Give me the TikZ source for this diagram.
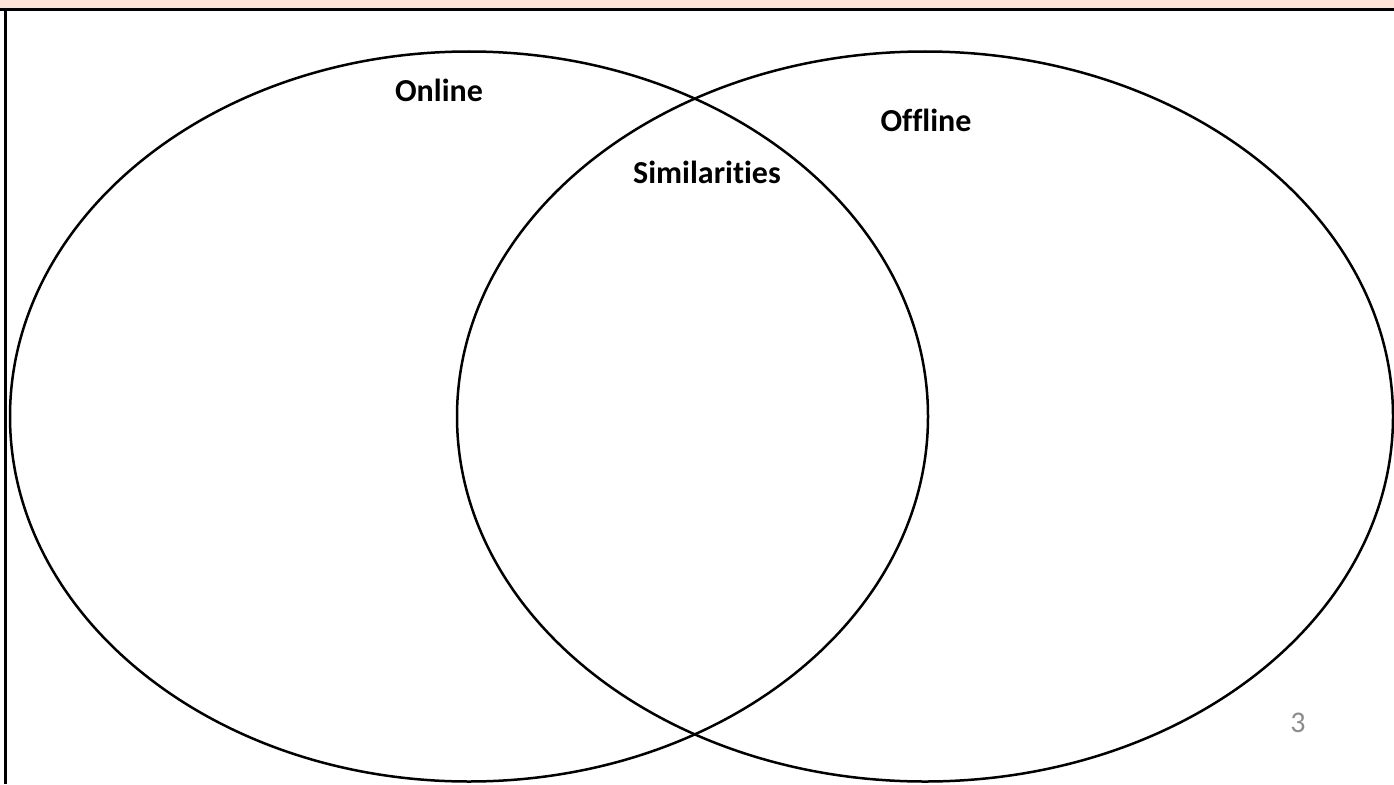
\documentclass[tikz,border=0pt]{standalone}
\usepackage{fontspec}
\setmainfont{Carlito}[Ligatures=NoCommon]
\usetikzlibrary{positioning}
\usetikzlibrary{shapes.geometric}
\definecolor{peach}{RGB}{252,228,214}
\definecolor{pagenum}{RGB}{140,140,140}

\begin{document}
\begin{tikzpicture}[
    x=1pt, y=-1pt,
    venn/.style={ellipse, draw, line width=2.5pt, inner sep=0pt},
    setlabel/.style={font=\fontsize{32}{38}\selectfont\bfseries},
    frame/.style={line width=3pt}
]
    \useasboundingbox (0,0) rectangle (1394,784);

    % title band and frame
    \fill[peach] (0,0) rectangle (1394,10);
    \draw[frame] (0,10) -- (1394,10);
    \draw[frame] (5,10) -- (5,784);

    \node[venn, minimum width=918pt, minimum height=730pt] (online) at (469,416.5) {};
    \node[venn, minimum width=936pt, minimum height=730pt] (offline) at (925,416.5) {};

    \node[setlabel] (onlinelbl) at (439,90) {Online};
    \node[setlabel] (offlinelbl) at (926,120) {Offline};
    \node[setlabel] (similar) at (707,172) {Similarities};

    \node[pagenum, font=\fontsize{30}{36}\selectfont] (page) at (1298,723) {3};
\end{tikzpicture}
\end{document}
